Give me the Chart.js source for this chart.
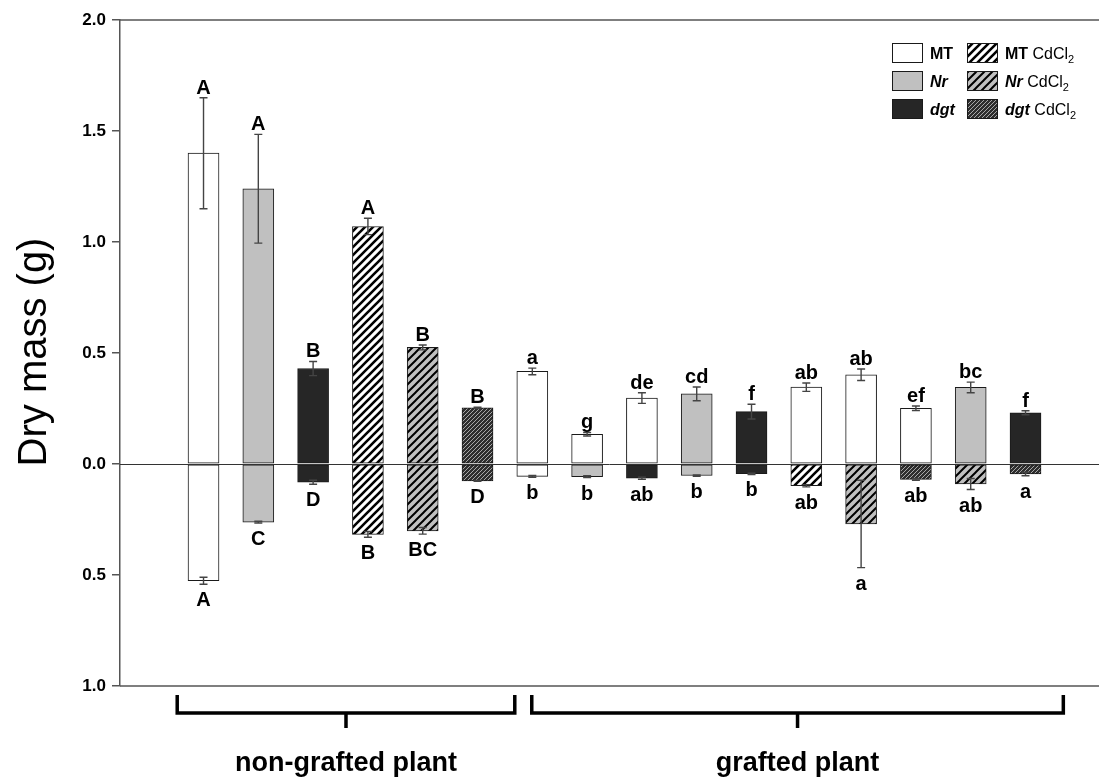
<!DOCTYPE html>
<html>
<head>
<meta charset="utf-8">
<script src="https://cdn.jsdelivr.net/npm/chart.js@4.4.1/dist/chart.umd.min.js"></script>
<style>
  html, body { margin: 0; padding: 0; background: #fff; }
  #wrap { width: 1099px; height: 781px; position: relative; }
</style>
</head>
<body>
<div id="wrap"><canvas id="massChart"></canvas></div>
<script>
// 16 bars: 6 non-grafted, then 10 grafted (scion on top, rootstock below)
const barPos = [1, 2, 3, 4, 5, 6, 7, 8, 9, 10, 11, 12, 13, 14, 15, 16];
const shootType = ["MT", "Nr", "dgt", "MT Cd", "Nr Cd", "dgt Cd", "MT", "MT", "MT", "Nr", "dgt", "MT", "MT", "MT", "Nr", "dgt"];
const rootType = ["MT", "Nr", "dgt", "MT Cd", "Nr Cd", "dgt Cd", "MT", "Nr", "dgt", "Nr", "dgt", "MT Cd", "Nr Cd", "dgt Cd", "Nr Cd", "dgt Cd"];

const shootMass = [1.40, 1.24, 0.43, 1.07, 0.525, 0.253, 0.417, 0.134, 0.297, 0.316, 0.236, 0.346, 0.402, 0.251, 0.345, 0.231];
const shootErr = [0.25, 0.245, 0.032, 0.037, 0.011, 0.003, 0.015, 0.008, 0.024, 0.031, 0.033, 0.019, 0.026, 0.01, 0.024, 0.009];
const rootMass = [-0.526, -0.262, -0.082, -0.317, -0.301, -0.076, -0.056, -0.057, -0.064, -0.052, -0.044, -0.098, -0.27, -0.069, -0.09, -0.045];
const rootErr = [0.016, 0.004, 0.009, 0.013, 0.015, 0.002, 0.004, 0.004, 0.005, 0.003, 0.003, 0.005, 0.197, 0.004, 0.025, 0.008];

const shootLetters = ["A", "A", "B", "A", "B", "B", "a", "g", "de", "cd", "f", "ab", "ab", "ef", "bc", "f"];
const rootLetters = ["A", "C", "D", "B", "BC", "D", "b", "b", "ab", "b", "b", "ab", "a", "ab", "ab", "a"];

const groupNames = ["non-grafted plant", "grafted plant"];
const groupFrom = [0.52, 6.99];
const groupTo = [6.68, 16.69];

const yMin = -1, yMax = 2, yStep = 0.5;

const FONT = "'Liberation Sans', Arial, sans-serif";

function hatch(bg, ink, width, step) {
  const c = document.createElement("canvas");
  c.width = step;
  c.height = step;
  const g = c.getContext("2d");
  g.fillStyle = bg;
  g.fillRect(0, 0, step, step);
  g.strokeStyle = ink;
  g.lineWidth = width;
  g.beginPath();
  [0, step, 2 * step].forEach((k) => {
    g.moveTo(-1, k + 1);
    g.lineTo(k + 1, -1);
  });
  g.stroke();
  return g.createPattern(c, "repeat");
}

const fills = {
  "MT": "#ffffff",
  "Nr": "#c0c0c0",
  "dgt": "#262626",
  "MT Cd": hatch("#ffffff", "#000000", 2.6, 8),
  "Nr Cd": hatch("#c0c0c0", "#000000", 2.0, 8),
  "dgt Cd": hatch("#2e2e2e", "#a8a8a8", 1, 4),
};

const barStyle = {
  borderColor: "#1a1a1a",
  borderWidth: 1,
  borderSkipped: false,
  barThickness: 31,
  grouped: false,
};

const overlay = {
  id: "overlay",
  afterDatasetsDraw(chart) {
    const { ctx, chartArea: a } = chart;
    const x = chart.scales.x, y = chart.scales.y;
    ctx.save();

    // frame top / bottom
    ctx.strokeStyle = "#555";
    ctx.lineWidth = 1.5;
    ctx.beginPath();
    ctx.moveTo(a.left, a.top); ctx.lineTo(a.right, a.top);
    ctx.moveTo(a.left, a.bottom); ctx.lineTo(a.right, a.bottom);
    ctx.stroke();

    // zero line
    const y0 = Math.round(y.getPixelForValue(0)) + 0.5;
    ctx.strokeStyle = "#333";
    ctx.lineWidth = 1;
    ctx.beginPath();
    ctx.moveTo(a.left, y0); ctx.lineTo(a.right, y0);
    ctx.stroke();

    // error bars
    ctx.strokeStyle = "#444";
    ctx.lineWidth = 1.4;
    const errBar = (px, v, e) => {
      const t = y.getPixelForValue(v + e), b = y.getPixelForValue(v - e);
      ctx.beginPath();
      ctx.moveTo(px, t); ctx.lineTo(px, b);
      ctx.moveTo(px - 4, t); ctx.lineTo(px + 4, t);
      ctx.moveTo(px - 4, b); ctx.lineTo(px + 4, b);
      ctx.stroke();
    };
    barPos.forEach((p, i) => {
      const px = x.getPixelForValue(p);
      errBar(px, shootMass[i], shootErr[i]);
      errBar(px, rootMass[i], rootErr[i]);
    });

    // significance letters
    ctx.fillStyle = "#000";
    ctx.font = "bold 20px " + FONT;
    ctx.textAlign = "center";
    ctx.textBaseline = "alphabetic";
    barPos.forEach((p, i) => {
      const px = x.getPixelForValue(p);
      ctx.fillText(shootLetters[i], px, y.getPixelForValue(shootMass[i] + shootErr[i]) - 4);
      ctx.fillText(rootLetters[i], px, y.getPixelForValue(rootMass[i] - rootErr[i]) + 22);
    });

    ctx.restore();
  },
  afterDraw(chart) {
    const { ctx } = chart;
    const x = chart.scales.x;
    ctx.save();

    // y title
    ctx.fillStyle = "#000";
    ctx.font = "40px " + FONT;
    ctx.textAlign = "center";
    ctx.textBaseline = "alphabetic";
    ctx.translate(46, 352);
    ctx.rotate(-Math.PI / 2);
    ctx.fillText("Dry mass (g)", 0, 0);
    ctx.setTransform(1, 0, 0, 1, 0, 0);

    // group brackets
    ctx.strokeStyle = "#000";
    ctx.lineWidth = 3.5;
    ctx.lineJoin = "miter";
    groupNames.forEach((name, i) => {
      const l = x.getPixelForValue(groupFrom[i]);
      const r = x.getPixelForValue(groupTo[i]);
      const m = (l + r) / 2;
      ctx.beginPath();
      ctx.moveTo(l, 695); ctx.lineTo(l, 713); ctx.lineTo(r, 713); ctx.lineTo(r, 695);
      ctx.moveTo(m, 713); ctx.lineTo(m, 728);
      ctx.stroke();
      ctx.font = "bold 27px " + FONT;
      ctx.textAlign = "center";
      ctx.fillText(name, m, 771);
    });

    // legend
    const legendItems = [
      { key: "MT", name: "MT", italic: false, col: 0, row: 0 },
      { key: "Nr", name: "Nr", italic: true, col: 0, row: 1 },
      { key: "dgt", name: "dgt", italic: true, col: 0, row: 2 },
      { key: "MT Cd", name: "MT", italic: false, col: 1, row: 0 },
      { key: "Nr Cd", name: "Nr", italic: true, col: 1, row: 1 },
      { key: "dgt Cd", name: "dgt", italic: true, col: 1, row: 2 },
    ];
    ctx.textAlign = "left";
    legendItems.forEach((it) => {
      const sx = 892 + it.col * 75, sy = 43 + it.row * 28;
      ctx.fillStyle = "#1a1a1a";
      ctx.fillRect(sx, sy, 31, 20);
      ctx.fillStyle = fills[it.key];
      ctx.fillRect(sx + 1, sy + 1, 29, 18);
      ctx.fillStyle = "#000";
      let tx = sx + 38;
      const by = sy + 16;
      ctx.font = (it.italic ? "italic " : "") + "bold 16px " + FONT;
      ctx.fillText(it.name, tx, by);
      if (it.col === 1) {
        tx += ctx.measureText(it.name).width;
        ctx.font = "16px " + FONT;
        ctx.fillText(" CdCl", tx, by);
        tx += ctx.measureText(" CdCl").width;
        ctx.font = "11px " + FONT;
        ctx.fillText("2", tx, by + 4);
      }
    });

    ctx.restore();
  },
};

new Chart(document.getElementById("massChart"), {
  type: "bar",
  data: {
    datasets: [
      Object.assign({
        label: "shoot",
        data: barPos.map((p, i) => ({ x: p, y: shootMass[i] })),
        backgroundColor: shootType.map((t) => fills[t]),
      }, barStyle),
      Object.assign({
        label: "root",
        data: barPos.map((p, i) => ({ x: p, y: rootMass[i] })),
        backgroundColor: rootType.map((t) => fills[t]),
      }, barStyle),
    ],
  },
  options: {
    responsive: true,
    maintainAspectRatio: false,
    animation: false,
    layout: { padding: { top: 20, bottom: 95, left: 0, right: 0 } },
    plugins: { legend: { display: false }, tooltip: { enabled: false } },
    scales: {
      x: { type: "linear", min: -0.524, max: 17.341, offset: false, display: false },
      y: {
        min: yMin,
        max: yMax,
        ticks: {
          stepSize: yStep,
          color: "#000",
          padding: 6,
          font: { family: FONT, size: 17, weight: "bold" },
          callback: (v) => Math.abs(v).toFixed(1),
        },
        grid: { drawOnChartArea: false, drawTicks: true, tickLength: 8, color: "#555", lineWidth: 1.5 },
        border: { display: true, color: "#555", width: 1.5 },
        afterFit(s) { s.width = 120; },
      },
    },
  },
  plugins: [overlay],
});
</script>
</body>
</html>
